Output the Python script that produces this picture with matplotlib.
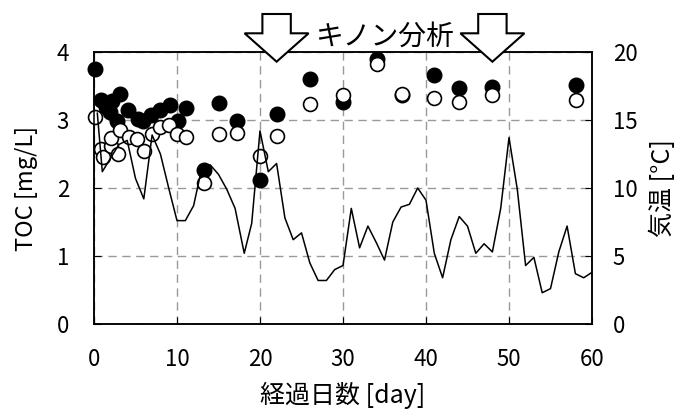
import matplotlib
matplotlib.use("Agg")
import matplotlib.pyplot as plt
import matplotlib.transforms as mtransforms
from matplotlib.patches import Polygon

plt.rcParams['font.family'] = ['Noto Sans CJK JP', 'DejaVu Sans']

# TOC (filled circles)
toc_a_day = [0.1, 0.8, 1.5, 1.9, 2.2, 2.8, 3.1, 4.1, 5.3, 5.9, 6.9, 7.9, 9.1, 10.1, 11.1,
             13.2, 15.1, 17.2, 20.0, 22.0, 26.0, 30.0, 34.1, 37.1, 41.0, 44.0, 48.0, 58.1]
toc_a = [3.75, 3.29, 3.19, 3.12, 3.28, 2.98, 3.38, 3.14, 3.01, 2.98, 3.07, 3.15, 3.22, 2.98, 3.17,
         2.26, 3.25, 2.98, 2.12, 3.09, 3.61, 3.26, 3.89, 3.37, 3.66, 3.47, 3.48, 3.51]
# TOC (open circles)
toc_b_day = [0.1, 0.8, 1.1, 2.0, 2.1, 2.9, 3.1, 4.2, 5.2, 6.0, 7.0, 8.0, 9.0, 10.0, 11.1,
             13.2, 15.1, 17.2, 20.0, 22.0, 26.0, 30.0, 34.1, 37.1, 41.0, 44.0, 48.0, 58.1]
toc_b = [3.05, 2.58, 2.46, 2.62, 2.73, 2.50, 2.86, 2.75, 2.72, 2.55, 2.79, 2.90, 2.93, 2.80, 2.75,
         2.08, 2.80, 2.81, 2.47, 2.76, 3.24, 3.37, 3.83, 3.38, 3.32, 3.27, 3.37, 3.30]
# Air temperature
temp_day = [0.4, 1, 2, 3, 4, 5, 6, 7, 8, 9, 10, 11, 12, 13, 14, 15, 16, 17, 18.1, 19, 20,
            21, 22, 23, 24, 25, 26, 27, 28, 29, 30, 31, 32, 33, 34, 35, 36, 37, 38, 39, 40,
            41, 42, 43, 44, 45, 46, 47, 48, 49, 50, 51, 52, 53, 54, 55, 56, 57, 58, 59, 60, 60.3]
temp = [15.5, 11.2, 12.2, 13.2, 13.5, 10.7, 9.2, 13.9, 12.5, 10.0, 7.6, 7.6, 8.7, 11.5, 11.7,
        11.0, 9.9, 8.5, 5.2, 7.4, 14.2, 11.2, 11.8, 7.8, 6.2, 6.7, 4.5, 3.2, 3.2, 4.0, 4.3,
        8.5, 5.6, 7.2, 6.0, 4.7, 7.5, 8.6, 8.8, 10.0, 9.1, 5.2, 3.4, 6.2, 7.9, 7.2, 5.2, 5.9,
        5.3, 8.5, 13.7, 9.9, 4.3, 4.9, 2.3, 2.6, 5.3, 7.2, 3.7, 3.4, 3.8, 4.6]
quinone_days = [22, 48]
quinone_label = "キノン分析"

x_ticks = [0, 10, 20, 30, 40, 50, 60]
y_ticks = [0, 1, 2, 3, 4]
y2_ticks = [0, 5, 10, 15, 20]

fig = plt.figure(figsize=(6.78, 4.12), dpi=100)
ax = fig.add_axes([94/678, 1-324/412, (592-94)/678, (324-52)/412])
ax2 = ax.twinx()

ax.set_xlim(0, 60)
ax.set_ylim(0, 4)
ax2.set_ylim(0, 20)
ax.set_xticks(x_ticks)
ax.set_yticks(y_ticks)
ax2.set_yticks(y2_ticks)

ax.grid(True, color='#999999', linestyle=(0, (6, 4)), linewidth=1.0)

ax.plot(toc_a_day, toc_a, linestyle='none', marker='o', markersize=10.5,
        markerfacecolor='black', markeredgecolor='black', zorder=3, clip_on=False)
ax.plot(toc_b_day, toc_b, linestyle='none', marker='o', markersize=10,
        markerfacecolor='white', markeredgecolor='black', markeredgewidth=1.2, zorder=4,
        clip_on=False)
ax2.plot(temp_day, temp, color='black', linewidth=1.1)

for a in (ax, ax2):
    for s in a.spines.values():
        s.set_linewidth(1.1)
        s.set_color('black')
ax.tick_params(axis='x', direction='in', length=5, labelsize=16, pad=17, top=False)
ax.tick_params(axis='y', direction='in', length=5, labelsize=16, pad=18)
ax2.tick_params(direction='in', length=5, labelsize=16, pad=15)

ax.set_xlabel("経過日数 [day]", fontsize=18, labelpad=8)
ax.set_ylabel("TOC [mg/L]", fontsize=17, labelpad=13)
ax2.set_ylabel("気温 [°C]", fontsize=18, labelpad=9)

# hollow arrows for quinone analysis
hw_head, hw_shaft = 0.32, 0.142
tip, head_top, shaft_top = -0.097, 0.187, 0.38
verts = [(0, tip), (-hw_head, head_top), (-hw_shaft, head_top), (-hw_shaft, shaft_top),
         (hw_shaft, shaft_top), (hw_shaft, head_top), (hw_head, head_top)]
for d in quinone_days:
    tr = fig.dpi_scale_trans + mtransforms.ScaledTranslation(d, 1.0, ax.get_xaxis_transform())
    p = Polygon(verts, closed=True, facecolor='white', edgecolor='black',
                linewidth=1.5, transform=tr, clip_on=False, zorder=10)
    ax2.add_patch(p)

ax2.text(sum(quinone_days)/2, 1.0, quinone_label, transform=ax.get_xaxis_transform(),
         ha='center', va='bottom', fontsize=20)

fig.savefig("out.png", dpi=100)
